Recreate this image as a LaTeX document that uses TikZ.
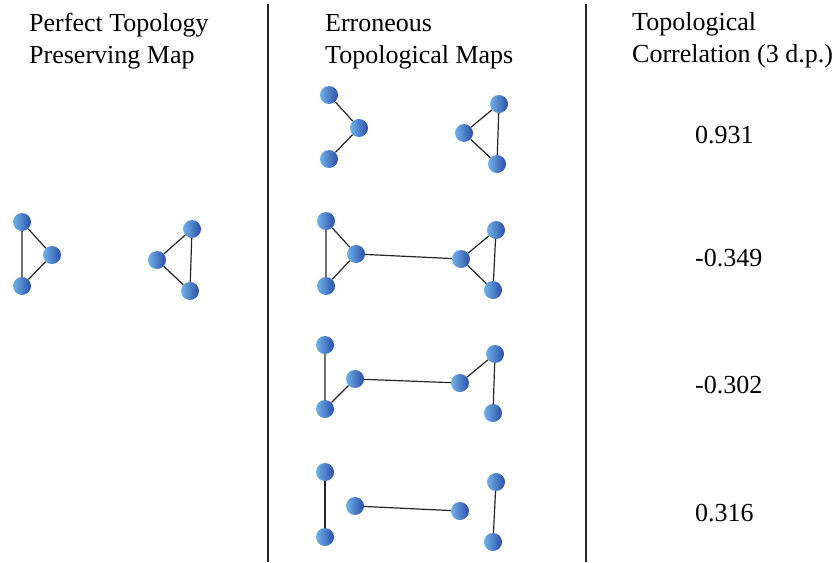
\documentclass[tikz,border=0pt]{standalone}
\usepackage{fontspec}
\setmainfont{Liberation Serif}
\definecolor{ballLight}{RGB}{112,178,232}
\definecolor{ballDark}{RGB}{44,78,168}
\tikzset{
  ball/.style = {circle, inner sep=0pt, minimum size=18pt, left color=ballLight, right color=ballDark, draw=none},
  link/.style = {draw=black!85, line width=1.2pt},
  divider/.style = {draw=black!85, line width=2pt},
  label/.style = {inner sep=0pt, font=\fontsize{26}{32}\selectfont, align=left},
}

\begin{document}
\begin{tikzpicture}[x=1pt, y=-1pt]
        \useasboundingbox (0,0) rectangle (837,562);
        \draw [divider] (268,4) -- (268,562);
        \draw [divider] (586,4) -- (586,562);
        \node [label, anchor=base west] (headA) at (29,63) {Perfect Topology\\Preserving Map};
        \node [label, anchor=base west] (headB) at (325,63) {Erroneous\\Topological Maps};
        \node [label, anchor=base west] (headC) at (632,62) {Topological\\Correlation (3 d.p.)};
        \node [label, anchor=base west] (corA) at (695,143) {0.931};
        \node [label, anchor=base west] (corB) at (695,266) {-0.349};
        \node [label, anchor=base west] (corC) at (695,393) {-0.302};
        \node [label, anchor=base west] (corD) at (695,521) {0.316};
        % perfect map
        \node [ball] (p1) at (22,222) {};
        \node [ball] (p2) at (52,255) {};
        \node [ball] (p3) at (22,286) {};
        \node [ball] (p4) at (192,229) {};
        \node [ball] (p5) at (157,260) {};
        \node [ball] (p6) at (190,291) {};
        \draw [link] (p1) -- (p2) -- (p3) -- (p1);
        \draw [link] (p4) -- (p5) -- (p6) -- (p4);
        % erroneous maps
        \node [ball] (a1) at (329,95) {};
        \node [ball] (a2) at (359,128) {};
        \node [ball] (a3) at (329,159) {};
        \node [ball] (a4) at (499,104) {};
        \node [ball] (a5) at (464,133) {};
        \node [ball] (a6) at (497,164) {};
        \draw [link] (a1) -- (a2) -- (a3);
        \draw [link] (a4) -- (a5) -- (a6) -- (a4);
        \node [ball] (b1) at (326,221) {};
        \node [ball] (b2) at (356,254) {};
        \node [ball] (b3) at (326,286) {};
        \node [ball] (b4) at (496,230) {};
        \node [ball] (b5) at (461,259) {};
        \node [ball] (b6) at (493,290) {};
        \draw [link] (b1) -- (b2) -- (b3) -- (b1);
        \draw [link] (b4) -- (b5) -- (b6) -- (b4);
        \draw [link] (b2) -- (b5);
        \node [ball] (c1) at (325,345) {};
        \node [ball] (c2) at (355,379) {};
        \node [ball] (c3) at (325,409) {};
        \node [ball] (c4) at (495,354) {};
        \node [ball] (c5) at (460,383) {};
        \node [ball] (c6) at (493,413) {};
        \draw [link] (c1) -- (c3) -- (c2) -- (c5) -- (c4) -- (c6);
        \node [ball] (d1) at (325,472) {};
        \node [ball] (d2) at (355,506) {};
        \node [ball] (d3) at (325,537) {};
        \node [ball] (d4) at (496,482) {};
        \node [ball] (d5) at (460,511) {};
        \node [ball] (d6) at (493,542) {};
        \draw [link] (d1) -- (d3);
        \draw [link] (d2) -- (d5);
        \draw [link] (d4) -- (d6);
\end{tikzpicture}
\end{document}
